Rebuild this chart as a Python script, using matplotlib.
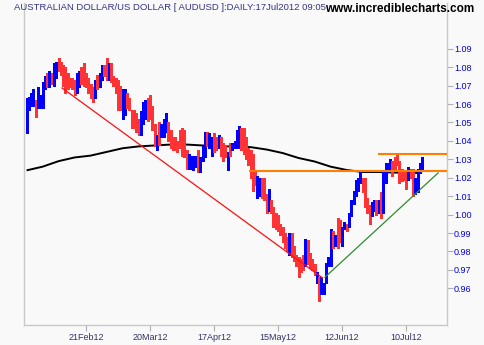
import matplotlib
matplotlib.use("Agg")
import matplotlib.pyplot as plt
import matplotlib.dates as mdates
import numpy as np
import pandas as pd

# ---------------- data ----------------
start_date = "2012-01-26"
n_days = 174

highs = [
    1.063, 1.064, 1.066, 1.068, 1.062, 1.069, 1.065, 1.072, 1.075, 1.077, 1.078, 1.077, 1.082, 1.083, 1.085, 1.083,
    1.081, 1.080, 1.077, 1.074, 1.074, 1.073, 1.077, 1.078, 1.080, 1.082, 1.077, 1.074, 1.071, 1.069, 1.073, 1.076, 1.077,
    1.081, 1.081, 1.085, 1.082, 1.082, 1.075, 1.074, 1.073, 1.070, 1.068, 1.068, 1.066, 1.063, 1.057, 1.057, 1.055,
    1.052, 1.056, 1.061, 1.062, 1.063, 1.065, 1.059, 1.049, 1.043, 1.050, 1.049, 1.052, 1.055, 1.050, 1.046, 1.042, 1.042,
    1.040, 1.046, 1.047, 1.046, 1.035, 1.033, 1.032, 1.032, 1.032, 1.035, 1.031, 1.037, 1.045, 1.045, 1.044, 1.042,
    1.044, 1.042, 1.043, 1.042, 1.039, 1.038, 1.034, 1.039, 1.039, 1.040, 1.046, 1.048, 1.047,
    1.047, 1.042, 1.036, 1.035, 1.033, 1.024, 1.021, 1.020, 1.020, 1.020, 1.011, 1.014, 1.008, 1.004, 1.001, 1.000,
    0.995, 0.993, 0.990, 0.988, 0.990, 0.990, 0.983, 0.978, 0.977, 0.976, 0.978, 0.987, 0.986, 0.979, 0.976, 0.973, 0.969, 0.966,
    0.966, 0.963, 0.974, 0.977, 0.992, 0.991, 0.989, 0.998, 0.997, 0.993, 0.996, 0.995, 1.001, 1.008, 1.013, 1.019,
    1.020, 1.023, 1.020, 1.020, 1.009, 1.005, 1.007, 1.008, 1.008, 1.008, 1.012, 1.024, 1.028, 1.028, 1.030, 1.029,
    1.031, 1.033, 1.029, 1.025, 1.023, 1.023, 1.026, 1.025, 1.025, 1.020, 1.025, 1.028, 1.031,
]
lows = [
    1.044, 1.057, 1.059, 1.059, 1.053, 1.058, 1.058, 1.058, 1.068, 1.069, 1.069, 1.071, 1.070, 1.074, 1.078, 1.076,
    1.070, 1.066, 1.068, 1.069, 1.068, 1.065, 1.066, 1.069, 1.071, 1.070, 1.069, 1.066, 1.063, 1.061, 1.063, 1.068, 1.069,
    1.073, 1.075, 1.073, 1.073, 1.072, 1.070, 1.066, 1.057, 1.057, 1.052, 1.054, 1.058, 1.057, 1.047, 1.047, 1.045,
    1.043, 1.043, 1.049, 1.052, 1.051, 1.052, 1.046, 1.037, 1.035, 1.038, 1.042, 1.042, 1.045, 1.040, 1.036, 1.035, 1.035,
    1.034, 1.036, 1.032, 1.031, 1.025, 1.025, 1.025, 1.024, 1.026, 1.023, 1.023, 1.029, 1.031, 1.037, 1.036, 1.032,
    1.034, 1.035, 1.036, 1.032, 1.029, 1.031, 1.024, 1.032, 1.035, 1.036, 1.036, 1.036, 1.035,
    1.033, 1.030, 1.027, 1.020, 1.013, 1.016, 1.009, 1.010, 1.009, 1.008, 1.001, 1.002, 1.001, 0.993, 0.992, 0.991,
    0.989, 0.985, 0.982, 0.980, 0.978, 0.977, 0.975, 0.972, 0.966, 0.969, 0.970, 0.972, 0.973, 0.971, 0.970, 0.967, 0.963, 0.953,
    0.957, 0.957, 0.963, 0.972, 0.972, 0.982, 0.983, 0.982, 0.985, 0.983, 0.992, 0.991, 0.993, 0.999, 1.006, 1.010,
    1.013, 1.017, 1.012, 1.004, 1.001, 0.995, 0.999, 1.002, 1.000, 1.001, 0.998, 1.001, 1.017, 1.023, 1.025, 1.021,
    1.024, 1.027, 1.017, 1.018, 1.019, 1.014, 1.019, 1.020, 1.010, 1.011, 1.012, 1.023, 1.024,
]
# U = up day (blue), D = down day (red)
direction = (
    "UUUUDUUUUDUDUUDDDDDDDDUUDDDDDDUDU"
    "UDDUDDDDDUUDDDDDDUUUDDDDUDUUUDDDD"
    "DDDDDUUUUDUUUDUUDDUDDDUDUUUUD"
    "DDDDDDUUDDDUDDDDDDDDUDDDDDDUDDDDUD"
    "UUUUUDUDDUUDUUUUUUDDDDUUDUDUUUUDDDDDDDUDDUUUU"
)

# moving average (sampled weekly, by day offset from start)
ma_day = [0, 7, 14, 21, 28, 35, 42, 49, 56, 63, 70, 77, 84, 91, 98, 105, 112, 119, 126, 133, 140, 147, 154, 161, 168, 173]
ma_val = [1.024, 1.026, 1.029, 1.031, 1.032, 1.034, 1.036, 1.037, 1.0375, 1.038, 1.038, 1.0375, 1.037, 1.037, 1.0366,
          1.0353, 1.0334, 1.0307, 1.0288, 1.026, 1.0242, 1.0231, 1.0231, 1.0228, 1.0226, 1.0226]

# trend lines
red_trend_dates = ["2012-02-10 12:00", "2012-06-03 12:00"]
red_trend_vals = [1.0687, 0.9656]
green_trend_dates = ["2012-06-04 12:00", "2012-07-24 00:00"]
green_trend_vals = [0.966, 1.0226]
orange_start_dates = ["2012-05-02 10:00", "2012-06-27 22:00"]
orange_levels = [1.0236, 1.0329]

x_tick_dates = ["2012-02-21", "2012-03-20", "2012-04-17", "2012-05-15", "2012-06-12", "2012-07-10"]
y_ticks = [0.96, 0.97, 0.98, 0.99, 1.00, 1.01, 1.02, 1.03, 1.04, 1.05, 1.06, 1.07, 1.08, 1.09]

title_text = "AUSTRALIAN DOLLAR/US DOLLAR [ AUDUSD ]:DAILY:17Jul2012 09:05"
site_text = "www.incrediblecharts.com"

# ---------------- plot ----------------
plt.rcParams['font.family'] = ['Liberation Sans', 'DejaVu Sans']
BG = "#F9F9F9"
fig = plt.figure(figsize=(4.84, 3.45), dpi=100, facecolor=BG)
ax = fig.add_axes([24/484, 20/345, 423/484, 322/345], facecolor=BG)

dates = pd.date_range(start_date, periods=n_days, freq="D")
xd = mdates.date2num(dates.to_pydatetime())
cols = ["#0000FF" if c == "U" else "#FF3333" for c in direction]

ma_x = mdates.date2num((pd.Timestamp(start_date) + pd.to_timedelta(ma_day, unit="D")).to_pydatetime())
ax.plot(ma_x, ma_val, color="black", lw=1.4, zorder=2, solid_capstyle="butt")

ax.vlines(xd, lows, highs, colors=cols, linewidth=2.0, zorder=3, antialiased=False)

rx = mdates.date2num(pd.to_datetime(red_trend_dates).to_pydatetime())
ax.plot(rx, red_trend_vals, color="#FF1010", lw=0.9, zorder=4)
gx = mdates.date2num(pd.to_datetime(green_trend_dates).to_pydatetime())
ax.plot(gx, green_trend_vals, color="#2E8B2E", lw=0.9, zorder=4)

x0 = xd[0] - 1.14
x1 = xd[0] + 183.9
for sd, lvl in zip(orange_start_dates, orange_levels):
    sx = mdates.date2num(pd.Timestamp(sd).to_pydatetime())
    ax.plot([sx, x1], [lvl, lvl], color="#FF8000", lw=1.5, zorder=4, solid_capstyle="butt")

ax.set_xlim(x0, x1)
ax.set_ylim(0.9401, 1.1148)

ax.yaxis.tick_right()
ax.set_yticks(y_ticks)
ax.set_yticklabels([f"{v:.2f}" for v in y_ticks])
ax.set_xticks(mdates.date2num(pd.to_datetime(x_tick_dates).to_pydatetime()))
ax.set_xticklabels([pd.Timestamp(d).strftime("%d%b%y") for d in x_tick_dates])

ax.tick_params(axis="y", which="both", right=True, left=False, length=4, width=0.8,
               color="#B0B0B0", labelcolor="#0000EE", labelsize=6.5, pad=1)
ax.tick_params(axis="x", which="both", bottom=True, length=4, width=0.8,
               color="#B0B0B0", labelcolor="#333366", labelsize=6.5, pad=2)

for s in ["left", "right", "bottom"]:
    ax.spines[s].set_color("#C8C8C8")
    ax.spines[s].set_linewidth(1.0)
ax.spines["top"].set_visible(False)

fig.text(14/484, 1 - 7.5/345, title_text, fontsize=6.8, color="#333388", va="center", ha="left")
fig.text(325/484, 1 - 8.5/345, site_text, fontsize=8.5, fontweight="bold", color="black", va="center", ha="left")

fig.savefig("out.png", dpi=100, facecolor=BG)
